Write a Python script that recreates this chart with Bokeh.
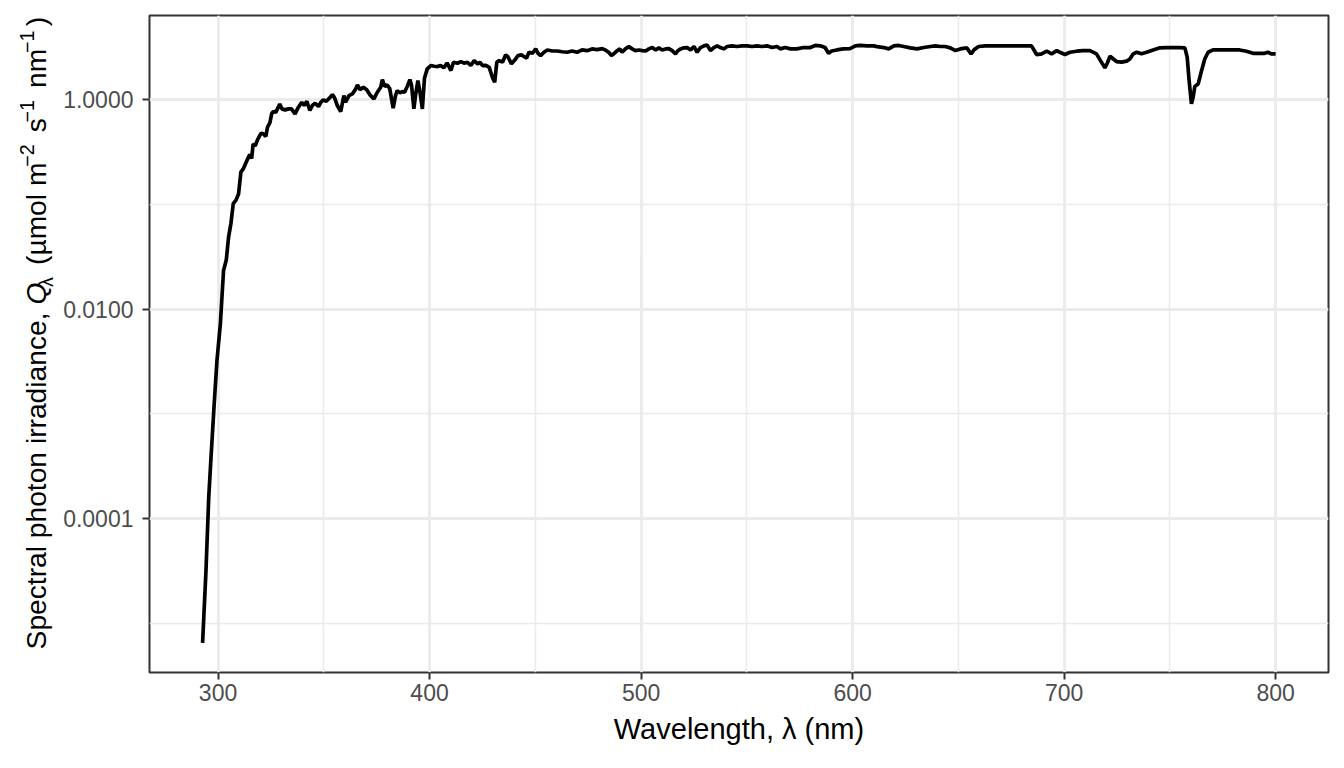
import math
from bokeh.plotting import figure
from bokeh.layouts import row
from bokeh.models import Range1d, FixedTicker
from bokeh.core.properties import value
from bokeh.embed import file_html
from bokeh.resources import INLINE

# ---- data (wavelength in nm, spectral photon irradiance in umol m-2 s-1 nm-1)
wavelength_nm = [
    292.7, 294.3, 295.6, 296.7, 298.2, 299.5, 301.1, 302.6, 303.9, 305.0,
    306.1, 307.2, 308.5, 309.7, 310.8, 311.9, 313.2, 314.5, 315.1, 315.9,
    316.6, 317.6, 318.7, 320.3, 321.5, 322.6, 323.4, 324.5, 325.4, 326.2,
    327.3, 328.1, 329.2, 330.2, 331.7, 333.3, 334.7, 336.4, 338.0, 339.6,
    340.7, 342.0, 343.4, 344.6, 345.9, 347.5, 348.6, 349.8, 351.2, 352.8,
    354.1, 355.1, 356.4, 358.0, 359.5, 360.3, 361.9, 363.5, 365.1, 365.9,
    367.1, 368.7, 370.3, 371.8, 373.7, 375.3, 376.9, 377.7, 378.7, 380.0,
    381.2, 382.8, 383.9, 384.7, 386.0, 387.1, 388.2, 389.5, 390.7, 391.5,
    392.6, 393.4, 394.5, 395.5, 396.6, 397.6, 398.9,
    400.6, 402.2, 403.7, 405.2, 406.8, 408.3, 410.1, 411.3, 413.2, 414.8,
    416.3, 417.9, 419.5, 421.1, 422.7, 423.9, 425.0, 426.6, 428.2, 429.7,
    430.8, 431.8, 432.9, 434.5, 436.0, 437.1, 438.7, 440.3, 441.8, 443.4,
    445.0, 445.9, 447.0, 448.6, 450.2, 451.3, 452.5, 454.1, 455.7, 458.0,
    460.4, 462.7, 465.1, 467.4, 469.8, 472.1, 474.5, 476.8, 479.2, 481.6,
    483.1, 484.7, 486.0, 487.1, 488.7, 490.0, 491.0, 492.6, 494.2, 495.8,
    497.3, 498.9,
    500.6, 502.2, 503.7, 505.3, 506.9, 508.4, 510.0, 511.6, 513.1, 514.7,
    516.3, 517.4, 518.7, 520.2, 521.8, 523.4, 525.0, 526.5, 528.1, 529.7,
    531.2, 532.8, 534.4, 536.0, 537.5, 539.1, 540.7, 543.0, 545.4, 547.7,
    550.1, 552.5, 554.8, 557.2, 559.5, 561.9, 564.3, 565.8, 568.2, 570.6,
    573.7, 576.8, 580.0, 582.3, 584.7, 587.0, 588.6, 590.1, 592.5, 595.6,
    598.8,
    601.3, 603.6, 606.8, 609.9, 611.6, 614.8, 617.1, 619.5, 621.8, 624.2,
    627.3, 630.5, 633.6, 636.8, 639.1, 641.5, 643.8, 646.2, 648.6, 650.9,
    654.0, 656.0, 657.5, 659.6, 662.7, 666.6, 671.3, 676.0, 680.7, 684.6,
    687.0, 689.4, 691.8, 694.1, 696.5, 698.0, 700.4, 702.8, 705.9, 709.0,
    712.2, 715.3, 717.2, 719.3, 720.4, 721.7, 723.3, 724.8, 727.2, 729.6,
    731.1, 732.7, 734.3, 736.6, 739.0, 742.1, 745.3, 748.4, 751.6, 754.7,
    757.1, 758.2, 759.1, 760.2, 761.0, 761.8, 763.4, 765.0, 766.5, 768.1,
    770.4, 773.6, 776.7, 779.9, 783.0, 786.2, 789.3, 792.5, 794.8, 796.4,
    797.9, 800.0,
]

photon_irradiance = [
    6.46e-6, 3.16e-5, 1.58e-4, 3.89e-4, 1.26e-3, 3.24e-3, 7.24e-3, 0.0234, 0.0295, 0.0490,
    0.0661, 0.102, 0.110, 0.126, 0.204, 0.219, 0.251, 0.288, 0.299, 0.275,
    0.380, 0.363, 0.417, 0.479, 0.473, 0.447, 0.550, 0.603, 0.741, 0.776,
    0.759, 0.820, 0.912, 0.820, 0.802, 0.820, 0.820, 0.735, 0.851, 0.948,
    0.883, 0.970, 0.794, 0.883, 0.929, 0.863, 0.948, 1.000, 0.970, 1.047,
    1.122, 1.047, 0.883, 0.773, 1.099, 0.948, 1.099, 1.140, 1.274, 1.390,
    1.253, 1.318, 1.247, 1.117, 1.023, 1.183, 1.318, 1.563, 1.349, 1.390,
    1.274, 0.832, 1.099, 1.227, 1.167, 1.199, 1.183, 1.349, 1.563, 1.371,
    0.820, 1.117, 1.528, 1.183, 0.820, 1.607, 1.977,
    2.128, 2.094, 2.080, 2.128, 2.023, 2.254, 1.905, 2.286, 2.239, 2.323,
    2.239, 2.286, 2.128, 2.371, 2.208, 2.291, 2.128, 2.138, 2.046, 1.644,
    1.472, 2.286, 2.371, 2.291, 2.692, 2.570, 2.208, 2.399, 2.649, 2.692,
    2.570, 2.512, 2.851, 2.786, 3.069, 2.786, 2.649, 2.851, 2.999, 2.931,
    2.931, 2.884, 2.851, 2.931, 2.851, 2.999, 2.951, 3.069, 3.020, 3.090,
    2.999, 2.851, 2.649, 2.754, 2.951, 3.069, 2.851, 3.069, 3.228, 3.069,
    2.951, 2.999,
    2.951, 2.931, 3.069, 3.162, 2.999, 3.141, 2.999, 3.069, 3.090, 2.951,
    2.754, 2.951, 3.069, 3.141, 3.162, 2.999, 3.236, 2.851, 3.162, 3.281,
    3.350, 2.951, 3.162, 3.281, 3.162, 3.069, 3.236, 3.281, 3.236, 3.281,
    3.281, 3.236, 3.281, 3.236, 3.281, 3.162, 3.236, 3.069, 3.162, 3.069,
    3.069, 3.162, 3.162, 3.311, 3.281, 3.162, 2.786, 2.931, 2.999, 3.069,
    3.090,
    3.281, 3.311, 3.281, 3.281, 3.228, 3.162, 3.069, 3.281, 3.311, 3.236,
    3.141, 3.069, 3.162, 3.236, 3.281, 3.236, 3.236, 3.141, 2.958, 3.069,
    3.141, 2.754, 3.020, 3.236, 3.281, 3.281, 3.281, 3.281, 3.281, 3.281,
    2.710, 2.754, 2.917, 2.754, 2.951, 2.851, 2.710, 2.851, 2.917, 2.951,
    2.951, 2.754, 2.371, 2.023, 2.239, 2.612, 2.455, 2.323, 2.291, 2.344,
    2.455, 2.754, 2.851, 2.754, 2.851, 2.999, 3.141, 3.162, 3.162, 3.162,
    3.141, 2.553, 1.528, 0.916, 1.059, 1.340, 1.422, 1.905, 2.455, 2.851,
    2.999, 2.999, 2.999, 2.999, 2.999, 2.917, 2.786, 2.786, 2.786, 2.851,
    2.754, 2.754,
]

x_ticks = [300, 400, 500, 600, 700, 800]
x_minor_breaks = [350, 450, 550, 650, 750]
y_ticks = [1e-4, 1e-2, 1.0]
y_tick_labels = ["0.0001", "0.0100", "1.0000"]
y_minor_breaks = [1e-5, 1e-3, 1e-1]

x_title = "Wavelength, λ (nm)"
# y title pieces: (text, kind) kind: n = normal, i = italic, sub, sup
y_title_parts = [
    ("Spectral photon irradiance,", "n"),
    ("Q", "i"),
    ("λ", "sub"),
    ("(µmol m", "n"),
    ("−2", "sup"),
    ("s", "n"),
    ("−1", "sup"),
    ("nm", "n"),
    ("−1", "sup"),
    (")", "n"),
]

FONT = "Liberation Sans"
GRID = "#EBEBEB"
DARK = "#333333"
CANVAS_H = 760
STRIP_W = 58

# ---- main plot
p = figure(
    frame_width=1179, frame_height=657,
    x_range=Range1d(267.6, 825.0),
    y_range=Range1d(3.37e-6, 6.4),
    y_axis_type="log",
    output_backend="svg", toolbar_location=None,
    min_border_left=149 - STRIP_W, min_border_right=8,
    min_border_top=15, min_border_bottom=CANVAS_H - 15 - 657,
    background_fill_color="white", border_fill_color="white",
)

xt = FixedTicker(ticks=x_ticks, minor_ticks=x_minor_breaks)
yt = FixedTicker(ticks=y_ticks, minor_ticks=y_minor_breaks)
p.xaxis.ticker = xt
p.yaxis.ticker = yt
p.xgrid.ticker = xt
p.ygrid.ticker = yt
p.yaxis.major_label_overrides = {t: s for t, s in zip(y_ticks, y_tick_labels)}

for g in (p.xgrid, p.ygrid):
    g.grid_line_color = GRID
    g.grid_line_width = 2.8
    g.minor_grid_line_color = GRID
    g.minor_grid_line_width = 1.5

for ax in (p.xaxis, p.yaxis):
    ax.axis_line_color = None
    ax.major_tick_line_color = DARK
    ax.major_tick_line_width = 2
    ax.major_tick_out = 7
    ax.major_tick_in = 0
    ax.minor_tick_line_color = None
    ax.major_label_text_font = FONT
    ax.major_label_text_font_size = "23px"
    ax.major_label_text_color = "#4D4D4D"

p.xaxis.major_label_standoff = 4
p.yaxis.major_label_standoff = 9

p.xaxis.axis_label = x_title
p.xaxis.axis_label_text_font = FONT
p.xaxis.axis_label_text_font_size = "29px"
p.xaxis.axis_label_text_font_style = "normal"
p.xaxis.axis_label_text_color = "black"
p.xaxis.axis_label_standoff = 9

p.outline_line_color = DARK
p.outline_line_width = 2
p.outline_line_alpha = 1.0

p.line(wavelength_nm, photon_irradiance, line_color="black", line_width=3.7)

# ---- narrow strip holding the rotated y-axis title (data units = pixels)
t = figure(
    frame_width=STRIP_W, frame_height=CANVAS_H,
    x_range=Range1d(0, STRIP_W), y_range=Range1d(0, CANVAS_H),
    x_axis_location=None, y_axis_location=None,
    output_backend="svg", toolbar_location=None,
    min_border_left=0, min_border_right=0, min_border_top=0, min_border_bottom=0,
    background_fill_color="white", border_fill_color="white",
)
t.grid.visible = False
t.outline_line_color = None

BASE = 28.2
SCRIPT = 19.7
sizes = {"n": BASE, "i": BASE, "sub": SCRIPT, "sup": SCRIPT}
xpos = {"n": 46, "i": 46, "sub": 53, "sup": 34}
page_y_start = [648, 303.2, 281.3, 263.6, 161.2, 130.9, 116.8, 86.5, 47.3, 24.8]
for (txt, kind), py in zip(y_title_parts, page_y_start):
    s = sizes[kind]
    dx = 0.39 * s   # rendering offset of rotated text seen in the previous render
    dy = 0.50 * s
    t.text(
        x=[xpos[kind] - dx], y=[CANVAS_H - (py - dy)], text=[txt],
        angle=math.pi / 2, text_align="left", text_baseline="alphabetic",
        text_font=value(FONT), text_font_size=f"{s}px",
        text_font_style="italic" if kind == "i" else "normal",
        text_color="black",
    )

layout = row(t, p, spacing=0)
open("out.html", "w").write(file_html(layout, INLINE))
